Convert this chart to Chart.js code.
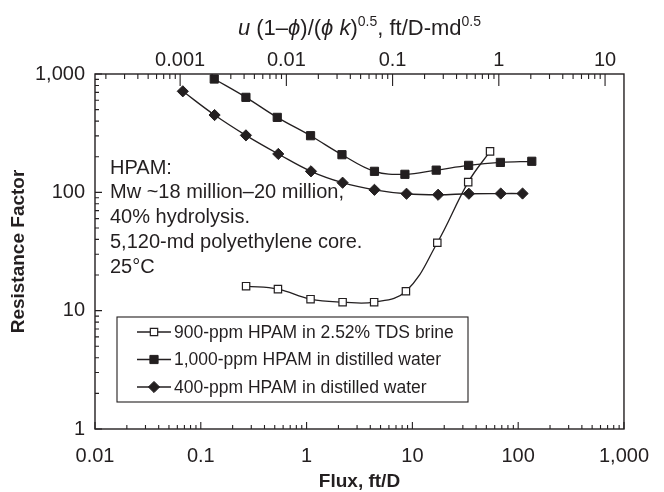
<!DOCTYPE html>
<html><head><meta charset="utf-8">
<script src="https://cdn.jsdelivr.net/npm/chart.js@4/dist/chart.umd.min.js"></script>
<style>html,body{margin:0;padding:0;background:#fff}#wrap{width:664px;height:492px;position:relative}</style>
</head><body><div id="wrap"><canvas id="c" width="664" height="492"></canvas></div>
<script>
// ---- data ----
const brineFlux   = [0.268, 0.536, 1.09, 2.19, 4.35, 8.69, 17.2, 33.7, 54.2];
const brineRF     = [16.1, 15.2, 12.5, 11.8, 11.8, 14.6, 37.5, 122, 222];
const dw1000Flux  = [0.134, 0.267, 0.528, 1.09, 2.16, 4.38, 8.5, 16.8, 34, 67.9, 134.5];
const dw1000RF    = [907, 635, 430, 301, 208, 150.5, 142, 154, 169, 179, 183];
const dw400Flux   = [0.0676, 0.135, 0.267, 0.54, 1.10, 2.19, 4.38, 8.8, 17.5, 34.2, 68.4, 110];
const dw400RF     = [714, 450, 303, 211, 150.5, 120.6, 105, 97.3, 95.4, 97.3, 97.7, 97.7];
const seriesLabels = ['900-ppm HPAM in 2.52% TDS brine', '1,000-ppm HPAM in distilled water', '400-ppm HPAM in distilled water'];
const xTicks      = [0.01, 0.1, 1, 10, 100, 1000];
const xTickLabels = ['0.01', '0.1', '1', '10', '100', '1,000'];
const yTicks      = [1, 10, 100, 1000];
const yTickLabels = ['1', '10', '100', '1,000'];
const topTicks      = [0.001, 0.01, 0.1, 1, 10];
const topTickLabels = ['0.001', '0.01', '0.1', '1', '10'];
const xRange   = [0.01, 1000];
const yRange   = [1, 1000];
const topRange = [1.58e-4, 15.07];
const xTitle = 'Flux, ft/D';
const yTitle = 'Resistance Factor';
const noteLines = ['HPAM:', 'Mw ~18 million\u201320 million,', '40% hydrolysis.', '5,120-md polyethylene core.', '25\u00b0C'];

const INK = '#231f20';
const FONT = "'Liberation Sans', Arial, Helvetica, sans-serif";
const pts = (xs, ys) => xs.map((x, i) => ({x: x, y: ys[i]}));

function marker(ctx, style, r, x, y, fill, stroke, bw) {
  ctx.save();
  ctx.beginPath();
  if (style === 'rectRot') {
    ctx.moveTo(x, y - r); ctx.lineTo(x + r, y); ctx.lineTo(x, y + r); ctx.lineTo(x - r, y); ctx.closePath();
  } else {
    const s = Math.SQRT1_2 * r;
    ctx.rect(x - s, y - s, 2 * s, 2 * s);
  }
  ctx.fillStyle = fill; ctx.fill();
  ctx.lineWidth = bw; ctx.strokeStyle = stroke; ctx.stroke();
  ctx.restore();
}

function minorValues(lo, hi) {
  const out = [];
  for (let d = Math.floor(Math.log10(lo)) - 1; d <= Math.ceil(Math.log10(hi)); d++) {
    for (let k = 2; k <= 9; k++) {
      const v = k * Math.pow(10, d);
      if (v >= lo && v <= hi) out.push(v);
    }
  }
  return out;
}

const decor = {
  id: 'decor',
  afterDraw(chart) {
    const ctx = chart.ctx, a = chart.chartArea;
    const sx = chart.scales.x, sy = chart.scales.y, st = chart.scales.x2;
    ctx.save();
    ctx.strokeStyle = INK; ctx.lineWidth = 1.4;
    ctx.strokeRect(a.left, a.top, a.right - a.left, a.bottom - a.top);
    ctx.lineWidth = 1.1;
    ctx.beginPath();
    xTicks.forEach(v => { const p = sx.getPixelForValue(v); ctx.moveTo(p, a.bottom); ctx.lineTo(p, a.bottom - 7); });
    minorValues(xRange[0], xRange[1]).forEach(v => { const p = sx.getPixelForValue(v); ctx.moveTo(p, a.bottom); ctx.lineTo(p, a.bottom - 4); });
    yTicks.forEach(v => { const p = sy.getPixelForValue(v); ctx.moveTo(a.left, p); ctx.lineTo(a.left + 7, p); });
    minorValues(yRange[0], yRange[1]).forEach(v => { const p = sy.getPixelForValue(v); ctx.moveTo(a.left, p); ctx.lineTo(a.left + 4, p); });
    topTicks.forEach(v => { const p = st.getPixelForValue(v); ctx.moveTo(p, a.top); ctx.lineTo(p, a.top + 12); });
    minorValues(topRange[0], topRange[1]).forEach(v => { const p = st.getPixelForValue(v); ctx.moveTo(p, a.top); ctx.lineTo(p, a.top + 5); });
    ctx.stroke();

    ctx.fillStyle = INK;
    ctx.font = 'bold 19px ' + FONT;
    ctx.textAlign = 'center'; ctx.textBaseline = 'middle';
    ctx.fillText(xTitle, (a.left + a.right) / 2, 482);
    ctx.save();
    ctx.translate(19, (a.top + a.bottom) / 2);
    ctx.rotate(-Math.PI / 2);
    ctx.fillText(yTitle, 0, 0);
    ctx.restore();

    // top title with italics / superscripts
    const segs = [
      {t: 'u', it: true}, {t: ' (1\u2013'}, {t: '\u03d5', it: true}, {t: ')/('}, {t: '\u03d5', it: true},
      {t: ' '}, {t: 'k', it: true}, {t: ')'}, {t: '0.5', sup: true}, {t: ', ft/D-md'}, {t: '0.5', sup: true}
    ];
    const fontOf = s => (s.it ? 'italic ' : '') + (s.sup ? '14px ' : '22px ') + FONT;
    let w = 0;
    segs.forEach(s => { ctx.font = fontOf(s); w += ctx.measureText(s.t).width; });
    let x = (a.left + a.right) / 2 - w / 2;
    const base = 35;
    ctx.textAlign = 'left'; ctx.textBaseline = 'alphabetic';
    segs.forEach(s => { ctx.font = fontOf(s); ctx.fillText(s.t, x, s.sup ? base - 9 : base); x += ctx.measureText(s.t).width; });

    ctx.font = '20px ' + FONT;
    ctx.textBaseline = 'middle';
    noteLines.forEach((t, i) => ctx.fillText(t, 110, 168 + i * 24.8));

    const L = {x: 117, y: 317, w: 351, h: 85};
    ctx.fillStyle = '#fff';
    ctx.fillRect(L.x, L.y, L.w, L.h);
    ctx.lineWidth = 1.1; ctx.strokeStyle = INK;
    ctx.strokeRect(L.x, L.y, L.w, L.h);
    ctx.font = '17.5px ' + FONT;
    chart.data.datasets.forEach((ds, i) => {
      const yy = 332 + i * 27.5;
      ctx.beginPath(); ctx.lineWidth = ds.borderWidth; ctx.strokeStyle = ds.borderColor;
      ctx.moveTo(137, yy); ctx.lineTo(171, yy); ctx.stroke();
      marker(ctx, ds.pointStyle, ds.pointRadius, 154, yy, ds.pointBackgroundColor, ds.pointBorderColor, ds.pointBorderWidth);
      ctx.fillStyle = INK; ctx.textAlign = 'left'; ctx.textBaseline = 'middle';
      ctx.fillText(ds.label, 174, yy + 1);
    });
    ctx.restore();
  }
};

const common = {showLine: true, tension: 0.4, borderColor: INK, borderWidth: 1.3, pointBorderColor: INK, pointBorderWidth: 1};
const chart = new Chart(document.getElementById('c'), {
  type: 'scatter',
  data: {
    datasets: [
      Object.assign({}, common, {label: seriesLabels[0], data: pts(brineFlux, brineRF), pointStyle: 'rect', pointRadius: 5.2, pointBackgroundColor: '#fff', pointBorderWidth: 1.2}),
      Object.assign({}, common, {label: seriesLabels[1], data: pts(dw1000Flux, dw1000RF), pointStyle: 'rect', pointRadius: 5.8, pointBackgroundColor: INK}),
      Object.assign({}, common, {label: seriesLabels[2], data: pts(dw400Flux, dw400RF), pointStyle: 'rectRot', pointRadius: 5.6, pointBackgroundColor: INK})
    ]
  },
  options: {
    responsive: false, animation: false, devicePixelRatio: 1,
    layout: {padding: {left: 0, right: 37, top: 0, bottom: 0}},
    plugins: {legend: {display: false}, tooltip: {enabled: false}, title: {display: false}},
    elements: {point: {hoverRadius: 5}},
    scales: {
      x: {
        type: 'logarithmic', position: 'bottom', min: xRange[0], max: xRange[1],
        afterBuildTicks: s => { s.ticks = xTicks.map(v => ({value: v})); },
        afterFit: s => { s.height = 63; },
        grid: {display: false, drawTicks: false}, border: {display: false},
        ticks: {autoSkip: false, maxRotation: 0, padding: 15, color: INK, font: {family: FONT, size: 20},
                callback: (v, i) => xTickLabels[i]}
      },
      x2: {
        type: 'logarithmic', position: 'top', display: true, min: topRange[0], max: topRange[1],
        afterBuildTicks: s => { s.ticks = topTicks.map(v => ({value: v})); },
        afterFit: s => { s.height = 74; },
        grid: {display: false, drawTicks: false}, border: {display: false},
        ticks: {autoSkip: false, maxRotation: 0, padding: 2, color: INK, font: {family: FONT, size: 20},
                callback: (v, i) => topTickLabels[i]}
      },
      y: {
        type: 'logarithmic', position: 'left', min: yRange[0], max: yRange[1],
        afterBuildTicks: s => { s.ticks = yTicks.map(v => ({value: v})); },
        afterFit: s => { s.width = 95; },
        grid: {display: false, drawTicks: false}, border: {display: false},
        ticks: {autoSkip: false, padding: 10, color: INK, font: {family: FONT, size: 20},
                callback: (v, i) => yTickLabels[i]}
      }
    }
  },
  plugins: [decor]
});
</script>
</body></html>
